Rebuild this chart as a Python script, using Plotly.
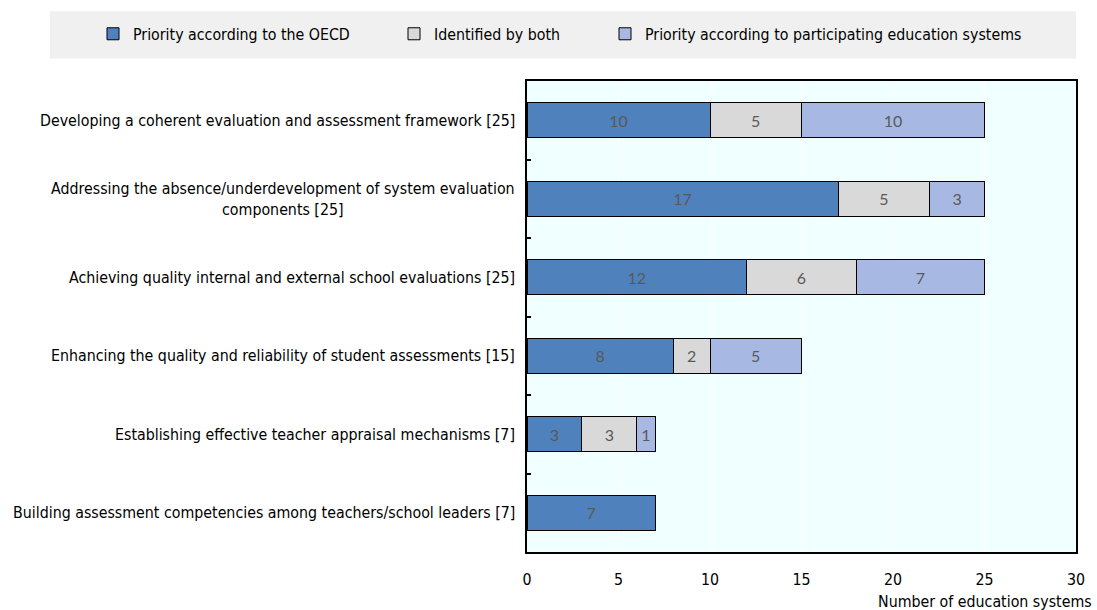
import plotly.graph_objects as go

categories = [
    "Developing a coherent evaluation and assessment framework [25]",
    "Addressing the absence/underdevelopment of system evaluation<br>components [25]",
    "Achieving quality internal and external school evaluations [25]",
    "Enhancing the quality and reliability of student assessments [15]",
    "Establishing effective teacher appraisal mechanisms [7]",
    "Building assessment competencies among teachers/school leaders [7]",
]
oecd = [10, 17, 12, 8, 3, 7]
both = [5, 5, 6, 2, 3, 0]
systems = [10, 3, 7, 5, 1, 0]

series_names = ["Priority according to the OECD", "Identified by both",
                "Priority according to participating education systems"]
colors = ["#4F81BD", "#D9D9D9", "#A7B9E3"]
legend_ids = ["legend", "legend2", "legend3"]
legend_x = [93, 394, 605]

LABEL_FONT = "DejaVu Sans Condensed, Liberation Sans, Arial, sans-serif"
FS = 15.8

fig = go.Figure()
for name, vals, col, lid in zip(series_names, [oecd, both, systems], colors, legend_ids):
    fig.add_trace(go.Bar(
        y=categories, x=vals, name=name, orientation="h", legend=lid,
        marker=dict(color=col, line=dict(color="#000000", width=1)),
        text=[str(v) if v else "" for v in vals],
        textposition="inside", insidetextanchor="middle",
        textfont=dict(family="Lato, Carlito, sans-serif", size=16, color="#595959"),
        width=0.45,
    ))

for c in categories:
    fig.add_annotation(x=0, xref="paper", y=c, yref="y", text=c, showarrow=False,
                       xanchor="right", xshift=-10, align="center",
                       font=dict(family=LABEL_FONT, size=FS, color="#000000"))

fig.add_annotation(x=1, xref="paper", y=0, yref="paper", yshift=-38, xshift=18,
                   text="Number of education systems", showarrow=False,
                   xanchor="right", yanchor="top",
                   font=dict(family=LABEL_FONT, size=FS, color="#000000"))

fig.add_shape(type="rect", xref="paper", yref="paper",
              x0=-0.869, x1=1.0, y0=1.048, y1=1.148,
              fillcolor="#F0F0F0", line=dict(width=0), layer="below")

leg_common = dict(orientation="h", xanchor="left", xref="container",
                  y=1 - 34 / 610, yanchor="middle", yref="container",
                  bgcolor="rgba(0,0,0,0)", borderwidth=0,
                  font=dict(family=LABEL_FONT, size=FS, color="#000000"),
                  itemwidth=30)

layout_legends = {}
for lid, lx in zip(legend_ids, legend_x):
    layout_legends[lid] = dict(leg_common, x=lx / 1097)

fig.update_layout(
    width=1097, height=610,
    margin=dict(l=527, r=19, t=81, b=58),
    barmode="stack",
    plot_bgcolor="#F0FFFF",
    paper_bgcolor="#FFFFFF",
    showlegend=True,
    font=dict(family=LABEL_FONT, size=FS, color="#000000"),
    xaxis=dict(range=[0, 30], dtick=5, showgrid=True, gridcolor="#FFFFFF", gridwidth=1,
               showline=True, linecolor="#000000", linewidth=2, mirror=True,
               ticks="", zeroline=False, ticklabelstandoff=12,
               tickfont=dict(family=LABEL_FONT, size=FS)),
    yaxis=dict(categoryorder="array", categoryarray=categories, autorange="reversed",
               showticklabels=False, tickson="boundaries", ticks="inside", ticklen=4,
               tickcolor="#000000", tickwidth=2,
               showline=True, linecolor="#000000", linewidth=2, mirror=True,
               showgrid=False),
    **layout_legends,
)

fig.write_html("out.html")
